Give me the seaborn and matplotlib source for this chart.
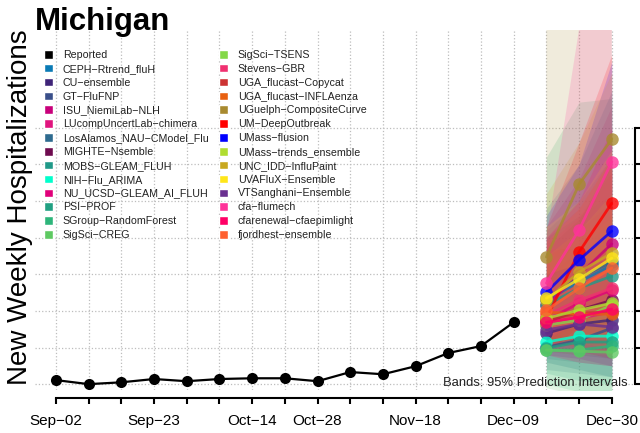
import matplotlib
matplotlib.use("Agg")
import matplotlib.pyplot as plt
from matplotlib.patches import Patch
import seaborn as sns
import pandas as pd

# x axis: weekly target dates
week_labels = ["Sep-02", "Sep-09", "Sep-16", "Sep-23", "Sep-30", "Oct-07", "Oct-14",
               "Oct-21", "Oct-28", "Nov-04", "Nov-11", "Nov-18", "Nov-25", "Dec-02",
               "Dec-09", "Dec-16", "Dec-23", "Dec-30"]
shown_labels = ["Sep-02", "Sep-23", "Oct-14", "Oct-28", "Nov-18", "Dec-09", "Dec-30"]

# observed weekly hospitalizations (Sep-02 .. Dec-09)
reported = [11, 0, 5, 14, 8, 14, 16, 16, 8, 33, 27, 49, 85, 104, 169]

models = ["CEPH-Rtrend_fluH", "CU-ensemble", "GT-FluFNP", "ISU_NiemiLab-NLH",
          "LUcompUncertLab-chimera", "LosAlamos_NAU-CModel_Flu", "MIGHTE-Nsemble",
          "MOBS-GLEAM_FLUH", "NIH-Flu_ARIMA", "NU_UCSD-GLEAM_AI_FLUH", "PSI-PROF",
          "SGroup-RandomForest", "SigSci-CREG", "SigSci-TSENS", "Stevens-GBR",
          "UGA_flucast-Copycat", "UGA_flucast-INFLAenza", "UGuelph-CompositeCurve",
          "UM-DeepOutbreak", "UMass-flusion", "UMass-trends_ensemble",
          "UNC_IDD-InfluPaint", "UVAFluX-Ensemble", "VTSanghani-Ensemble",
          "cfa-flumech", "cfarenewal-cfaepimlight", "fjordhest-ensemble"]

model_colors = ["#0a7ab5", "#3f2478", "#3a4f8a", "#c8007a", "#e0147e", "#2e6b8f",
                "#6e0b4f", "#209988", "#00ffcc", "#e0007a", "#21a082", "#2db57a",
                "#5ec962", "#84d848", "#f03070", "#cc3333", "#e86010", "#a88a30",
                "#ff0000", "#0000ff", "#b0dd30", "#c8a820", "#ffe619", "#6a3090",
                "#ff3399", "#ff0066", "#ff6030"]

# forecasts for Dec-16, Dec-23, Dec-30 (median, 95% lower, 95% upper)
median = [[229, 279, 325], [139, 164, 175], [101, 120, 153], [216, 298, 383],
          [161, 180, 197], [235, 290, 333], [169, 202, 229], [216, 262, 295],
          [115, 131, 131], [175, 221, 257], [98, 115, 115], [93, 93, 104],
          [93, 90, 87], [161, 175, 216], [189, 229, 262], [175, 194, 197],
          [197, 191, 191], [347, 546, 669], [180, 361, 494], [251, 339, 418],
          [180, 202, 221], [229, 306, 358], [235, 287, 344], [148, 164, 156],
          [276, 421, 607], [169, 183, 205], [202, 262, 317]]

lower95 = [[120, 110, 100], [70, 60, 50], [40, 30, 20], [130, 150, 170],
           [60, 40, 20], [150, 160, 170], [90, 80, 70], [140, 150, 150],
           [60, 40, 20], [100, 110, 110], [30, 10, 0], [0, -20, -30],
           [-10, -30, -40], [90, 80, 80], [110, 120, 120], [100, 90, 70],
           [120, 100, 80], [150, 180, 200], [80, 160, 220], [170, 200, 220],
           [110, 110, 100], [120, 120, 110], [150, 160, 170], [80, 70, 50],
           [120, 170, 240], [80, 60, 50], [120, 130, 140]]

upper95 = [[480, 600, 800], [300, 360, 420], [260, 330, 420], [430, 560, 760],
           [400, 480, 620], [420, 500, 620], [370, 450, 600], [400, 460, 520],
           [240, 290, 330], [350, 420, 500], [260, 340, 420], [620, 770, 780],
           [280, 360, 450], [330, 380, 460], [380, 460, 580], [350, 400, 480],
           [370, 370, 380], [1100, 1500, 1900], [430, 660, 900], [460, 600, 880],
           [350, 420, 520], [520, 660, 850], [430, 500, 640], [300, 330, 340],
           [400, 970, 1550], [400, 500, 700], [390, 480, 620]]


def pretty(s):
    # R draws the hyphen as a minus sign
    return s.replace("-", "\u2212")


rep_df = pd.DataFrame({"week": range(len(reported)), "value": reported})

rows = []
for i, m in enumerate(models):
    for h in range(3):
        rows.append({"model": m, "week": len(reported) + h, "median": median[i][h],
                     "lower": lower95[i][h], "upper": upper95[i][h]})
fc = pd.DataFrame(rows)
palette = dict(zip(models, model_colors))

sns.set_style("white")
plt.rcParams["font.family"] = ["Liberation Sans", "DejaVu Sans"]
plt.rcParams["text.color"] = "black"
plt.rcParams["axes.labelcolor"] = "black"

fig = plt.figure(figsize=(6.4, 4.33), dpi=100)
ax = fig.add_axes([35 / 640, 43 / 433, 600 / 640, 360 / 433])

# prediction interval bands
for m, grp in fc.groupby("model", sort=False):
    ax.fill_between(grp["week"], grp["lower"], grp["upper"], color=palette[m],
                    alpha=0.17, linewidth=0, zorder=1)

sns.lineplot(data=fc, x="week", y="median", hue="model", hue_order=models,
             palette=palette, estimator=None, errorbar=None, marker="o",
             markersize=9, markeredgewidth=0, linewidth=2, alpha=0.8,
             legend=False, ax=ax, zorder=3)

sns.lineplot(data=rep_df, x="week", y="value", color="black", marker="o",
             markersize=8, markeredgewidth=0, linewidth=1.6, ax=ax, zorder=4)

ax.set_xlim(-0.642, 17.71)
ax.set_ylim(-16, 967)

ax.set_xticks(range(len(week_labels)))
ax.set_xticklabels([pretty(l) if l in shown_labels else "" for l in week_labels])
ax.set_yticks(range(0, 800, 100))
ax.yaxis.tick_right()
ax.tick_params(axis="x", bottom=True, direction="out", length=4.5, width=1.5,
               pad=7, labelsize=11, colors="black")
ax.tick_params(axis="y", right=True, left=False, labelright=False, direction="out",
               length=4, width=1.5, colors="black")

ax.grid(True, linestyle=":", color="#bdbdbd", linewidth=0.9)
ax.set_axisbelow(True)

for side in ["left", "top"]:
    ax.spines[side].set_visible(False)
ax.spines["bottom"].set_position(("outward", 6))
ax.spines["bottom"].set_bounds(0, 17)
ax.spines["bottom"].set_linewidth(1.5)
ax.spines["bottom"].set_color("black")
ax.spines["right"].set_bounds(0, 700)
ax.spines["right"].set_linewidth(1.5)
ax.spines["right"].set_color("black")

ax.set_xlabel("")
ax.set_ylabel("New Weekly Hospitalizations", fontsize=20, color="black")
ax.yaxis.set_label_position("left")
ax.yaxis.set_label_coords(-0.003, 0.508)

fig.text(35 / 640, 1 - 30 / 433, "Michigan", fontsize=22.5, fontweight="bold",
         va="baseline", ha="left", color="black")

ax.text(0.988, 0.019, "Bands: 95% Prediction Intervals", transform=ax.transAxes,
        ha="right", va="center", fontsize=9.4, color="#222222", zorder=5)

handles = [Patch(facecolor="black", label="Reported")]
handles += [Patch(facecolor=c, label=pretty(m)) for m, c in zip(models, model_colors)]
leg_kw = dict(loc="upper left", bbox_transform=fig.transFigure, frameon=False,
              fontsize=7.7, handlelength=0.85, handleheight=0.85, handletextpad=0.9,
              labelspacing=0.36, borderpad=0, borderaxespad=0, labelcolor="#222222")
leg1 = ax.legend(handles=handles[:14], bbox_to_anchor=(44 / 640, 1 - 50 / 433), **leg_kw)
ax.add_artist(leg1)
ax.legend(handles=handles[14:], bbox_to_anchor=(219 / 640, 1 - 50 / 433), **leg_kw)

fig.savefig("out.png", dpi=100)
plt.close(fig)
